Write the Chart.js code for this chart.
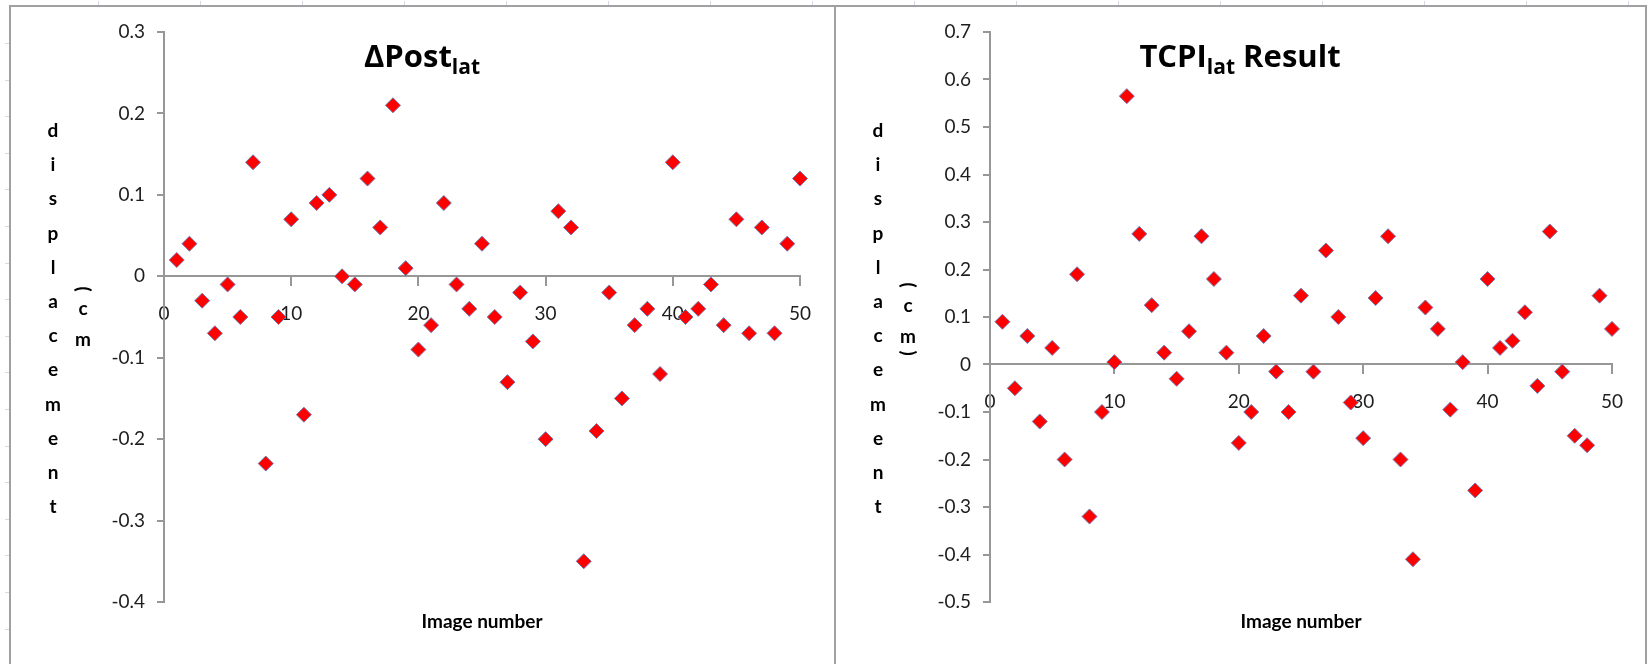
<!DOCTYPE html>
<html>
<head>
<meta charset="utf-8">
<title>Lateral displacement per image</title>
<script src="https://cdn.jsdelivr.net/npm/chart.js@4.4.1/dist/chart.umd.min.js"></script>
<style>
  html, body { margin: 0; padding: 0; background: #fff; }
  #sheet { position: relative; width: 1648px; height: 664px; overflow: hidden; background: #fff; }
  .mark { position: absolute; background: #d3dae4; }
  .frame { position: absolute; background: #a0a0a0; }
  .panel { position: absolute; top: 0; height: 664px; }
  .panel canvas { display: block; }
</style>
</head>
<body>
<div id="sheet">
  <div class="frame" style="left:9px;top:5px;width:1638px;height:2px"></div>
  <div class="frame" style="left:9px;top:5px;width:2px;height:659px"></div>
  <div class="frame" style="left:834px;top:5px;width:2px;height:659px"></div>
  <div class="frame" style="left:1645px;top:5px;width:2px;height:659px"></div>
  <div class="panel" style="left:0;width:835px"><canvas id="postChart" width="835" height="664"></canvas></div>
  <div class="panel" style="left:835px;width:813px"><canvas id="tcpiChart" width="813" height="664"></canvas></div>
</div>
<script>
// Image index along the horizontal axis
const imageNumbers = [1, 2, 3, 4, 5, 6, 7, 8, 9, 10,
  11, 12, 13, 14, 15, 16, 17, 18, 19, 20,
  21, 22, 23, 24, 25, 26, 27, 28, 29, 30,
  31, 32, 33, 34, 35, 36, 37, 38, 39, 40,
  41, 42, 43, 44, 45, 46, 47, 48, 49, 50];

// ΔPost_lat displacement (cm)
const postLat = [0.02, 0.04, -0.03, -0.07, -0.01, -0.05, 0.14, -0.23, -0.05, 0.07,
  -0.17, 0.09, 0.10, 0.00, -0.01, 0.12, 0.06, 0.21, 0.01, -0.09,
  -0.06, 0.09, -0.01, -0.04, 0.04, -0.05, -0.13, -0.02, -0.08, -0.20,
  0.08, 0.06, -0.35, -0.19, -0.02, -0.15, -0.06, -0.04, -0.12, 0.14,
  -0.05, -0.04, -0.01, -0.06, 0.07, -0.07, 0.06, -0.07, 0.04, 0.12];

// TCPI_lat result displacement (cm)
const tcpiLat = [0.09, -0.05, 0.06, -0.12, 0.035, -0.20, 0.19, -0.32, -0.10, 0.005,
  0.565, 0.275, 0.125, 0.025, -0.03, 0.07, 0.27, 0.18, 0.025, -0.165,
  -0.10, 0.06, -0.015, -0.10, 0.145, -0.015, 0.24, 0.10, -0.08, -0.155,
  0.14, 0.27, -0.20, -0.41, 0.12, 0.075, -0.095, 0.005, -0.265, 0.18,
  0.035, 0.05, 0.11, -0.045, 0.28, -0.015, -0.15, -0.17, 0.145, 0.075];

// Tick labels
const xTickLabels = ['0', '10', '20', '30', '40', '50'];
const postYTickLabels = ['-0.4', '-0.3', '-0.2', '-0.1', '0', '0.1', '0.2', '0.3'];
const tcpiYTickLabels = ['-0.5', '-0.4', '-0.3', '-0.2', '-0.1', '0', '0.1', '0.2', '0.3', '0.4', '0.5', '0.6', '0.7'];

// Text
const postTitle = ['ΔPost', 'lat', ''];
const tcpiTitle = ['TCPI', 'lat', ' Result'];
const yAxisWord = 'displacement';
const xAxisTitle = 'Image number';

// Faint spreadsheet cell marks around the frame
(function () {
  const sheet = document.getElementById('sheet');
  for (let y = 43; y < 664; y += 36.6) {
    const d = document.createElement('div');
    d.className = 'mark';
    d.style.cssText = 'left:5px;top:' + Math.round(y) + 'px;width:4px;height:1px';
    sheet.appendChild(d);
  }
  for (let x = 98; x < 1648; x += 102) {
    const d = document.createElement('div');
    d.className = 'mark';
    d.style.cssText = 'left:' + x + 'px;top:1px;width:1px;height:4px';
    sheet.appendChild(d);
  }
})();

const AXIS_GREY = '#979797';
const TICK_FONT = { family: 'Lato, "Open Sans", sans-serif', size: 19 };

// Draws the chart title (with subscript), stacked y-axis title and x-axis title
const panelText = {
  id: 'panelText',
  afterDraw(chart, args, o) {
    const { ctx, chartArea } = chart;
    ctx.save();
    ctx.fillStyle = '#000';
    ctx.textBaseline = 'alphabetic';

    // Title: main + subscript + tail
    const bigFont = 'bold ' + o.titleSize + 'px "Open Sans", Lato, sans-serif';
    const subFont = 'bold ' + o.subSize + 'px "Open Sans", Lato, sans-serif';
    ctx.font = bigFont;
    const w1 = ctx.measureText(o.title[0]).width;
    const w3 = ctx.measureText(o.title[2]).width;
    ctx.font = subFont;
    const w2 = ctx.measureText(o.title[1]).width;
    let x = o.titleX - (w1 + w2 + w3) / 2;
    ctx.textAlign = 'left';
    ctx.font = bigFont;
    ctx.fillText(o.title[0], x, o.titleY);
    x += w1;
    ctx.font = subFont;
    ctx.fillText(o.title[1], x, o.titleY + o.subDrop);
    x += w2;
    ctx.font = bigFont;
    ctx.fillText(o.title[2], x, o.titleY);

    // Stacked vertical y-axis title
    ctx.font = 'bold 19px Lato, "Open Sans", sans-serif';
    ctx.textAlign = 'center';
    o.yWord.split('').forEach((ch, i) => {
      ctx.fillText(ch, o.yWordX, o.yWordY + i * o.yWordStep);
    });

    // Unit column: rotated parentheses around stacked "cm"
    o.unit.forEach(u => {
      if (u.rot) {
        ctx.save();
        ctx.translate(o.unitX, u.y);
        ctx.rotate(Math.PI / 2);
        ctx.textBaseline = 'middle';
        ctx.fillText(u.ch, 0, 0);
        ctx.restore();
      } else {
        ctx.fillText(u.ch, o.unitX, u.y);
      }
    });

    // X-axis title centred under the plot
    ctx.font = 'bold 19px Lato, "Open Sans", sans-serif';
    ctx.fillText(o.xTitle, (chartArea.left + chartArea.right) / 2, o.xTitleY);
    ctx.restore();
  }
};

function makeChart(canvasId, values, yLabels, padding, text) {
  const yTicks = yLabels.map(Number);
  const xTicks = xTickLabels.map(Number);
  return new Chart(document.getElementById(canvasId), {
    type: 'scatter',
    data: {
      datasets: [{
        data: imageNumbers.map((n, i) => ({ x: n, y: values[i] })),
        pointStyle: 'rectRot',
        pointRadius: 7.5,
        pointHoverRadius: 7.5,
        backgroundColor: '#ff0000',
        borderColor: '#7278ad',
        borderWidth: 1,
        clip: false
      }]
    },
    options: {
      responsive: false,
      animation: false,
      events: [],
      layout: { padding },
      plugins: {
        legend: { display: false },
        tooltip: { enabled: false },
        title: { display: false },
        panelText: text
      },
      scales: {
        x: {
          type: 'linear',
          min: xTicks[0],
          max: xTicks[xTicks.length - 1],
          position: { y: 0 },
          afterBuildTicks: s => { s.ticks = xTicks.map(v => ({ value: v })); },
          ticks: {
            font: TICK_FONT,
            color: '#1e1e1e',
            padding: 17,
            maxRotation: 0,
            callback: (v, i) => xTickLabels[i]
          },
          grid: { display: true, drawOnChartArea: false, drawTicks: true, tickLength: 9, color: AXIS_GREY, lineWidth: 2 },
          border: { display: true, color: AXIS_GREY, width: 2 }
        },
        y: {
          type: 'linear',
          position: 'left',
          min: yTicks[0],
          max: yTicks[yTicks.length - 1],
          afterFit: s => { s.width = 74; },
          afterBuildTicks: s => { s.ticks = yTicks.map(v => ({ value: v })); },
          ticks: {
            font: TICK_FONT,
            color: '#1e1e1e',
            padding: 12,
            callback: (v, i) => yLabels[i]
          },
          grid: { display: true, drawOnChartArea: false, drawTicks: true, tickLength: 7, color: AXIS_GREY, lineWidth: 2 },
          border: { display: true, color: AXIS_GREY, width: 2 }
        }
      }
    },
    plugins: [panelText]
  });
}

makeChart('postChart', postLat, postYTickLabels,
  { left: 90, right: 35, top: 32, bottom: 62 },
  {
    title: postTitle, titleX: 422, titleY: 67, titleSize: 31, subSize: 21, subDrop: 7,
    yWord: yAxisWord, yWordX: 53, yWordY: 137, yWordStep: 34.2,
    unitX: 83,
    unit: [{ ch: '(', y: 289, rot: true }, { ch: 'c', y: 315 }, { ch: 'm', y: 346 }],
    xTitle: xAxisTitle, xTitleY: 628
  });

makeChart('tcpiChart', tcpiLat, tcpiYTickLabels,
  { left: 81, right: 36, top: 32, bottom: 62 },
  {
    title: tcpiTitle, titleX: 405, titleY: 67, titleSize: 31, subSize: 21, subDrop: 7,
    yWord: yAxisWord, yWordX: 43, yWordY: 137, yWordStep: 34.2,
    unitX: 73,
    unit: [{ ch: '(', y: 285, rot: true }, { ch: 'c', y: 312 }, { ch: 'm', y: 343 }, { ch: ')', y: 353, rot: true }],
    xTitle: xAxisTitle, xTitleY: 628
  });
</script>
</body>
</html>
